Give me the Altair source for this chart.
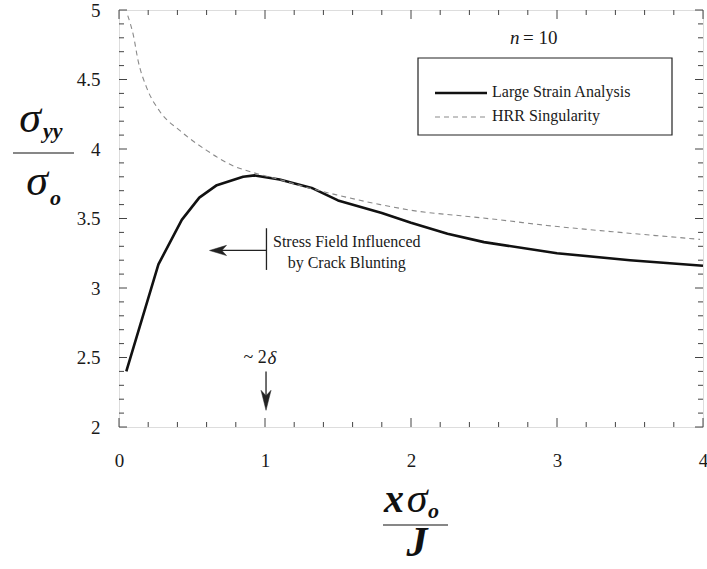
import altair as alt
import pandas as pd

# ---- data ----
ls_x = [0.05, 0.27, 0.43, 0.55, 0.67, 0.85, 0.93, 1.10, 1.32, 1.50, 1.80, 2.00, 2.25, 2.50, 3.00, 3.50, 4.00]
ls_y = [2.40, 3.17, 3.49, 3.65, 3.74, 3.80, 3.81, 3.78, 3.72, 3.63, 3.54, 3.47, 3.39, 3.33, 3.25, 3.20, 3.16]

hrr_x = [0.06, 0.10, 0.13, 0.19, 0.28, 0.42, 0.60, 0.78, 0.92, 1.10, 1.30, 1.49, 1.79, 2.06, 2.34, 2.61, 2.93, 3.38, 3.98]
hrr_y = [4.96, 4.81, 4.64, 4.44, 4.27, 4.13, 3.99, 3.88, 3.83, 3.78, 3.72, 3.67, 3.60, 3.55, 3.52, 3.49, 3.45, 3.405, 3.35]

x_major = [0, 1, 2, 3, 4]
x_minor = [0.2, 0.4, 0.6, 0.8, 1.2, 1.4, 1.6, 1.8, 2.2, 2.4, 2.6, 2.8, 3.2, 3.4, 3.6, 3.8]
y_major = [2, 2.5, 3, 3.5, 4, 4.5, 5]
y_minor = [2.1, 2.2, 2.3, 2.4, 2.6, 2.7, 2.8, 2.9, 3.1, 3.2, 3.3, 3.4, 3.6, 3.7, 3.8, 3.9,
           4.1, 4.2, 4.3, 4.4, 4.6, 4.7, 4.8, 4.9]

legend_labels = ["Large Strain Analysis", "HRR Singularity"]

# annotation anchors in data units
blunt_bar_x = [1.01]
blunt_bar_y = [3.43, 3.13]
blunt_arrow_x = [1.01, 0.62]
blunt_arrow_y = [3.27]
blunt_text = ["Stress Field Influenced", "by Crack Blunting"]
blunt_text_x = [1.56, 1.56]
blunt_text_y = [3.33, 3.18]
delta_x = [1.007]
delta_text_y = [2.50]
delta_arrow_y = [2.40, 2.12]

W, H = 584, 417
FONT = "'Liberation Serif', 'Times New Roman', 'DejaVu Serif', serif"
INK = "#1a1a1a"

xs = alt.Scale(domain=[0, 4], nice=False, zero=False)
ys = alt.Scale(domain=[2, 5], nice=False, zero=False)

one = pd.DataFrame({"a": [0]})

solid = alt.Chart(pd.DataFrame({"x": ls_x, "y": ls_y})).mark_line(
    color="#111", strokeWidth=2.6, strokeJoin="round"
).encode(
    x=alt.X("x:Q", scale=xs, axis=alt.Axis(
        values=x_major, title=None, ticks=False, domain=False, grid=False,
        labelFont=FONT, labelFontSize=19, labelColor=INK, labelPadding=24,
        labelExpr="'' + datum.value", labelFlush=False, labelBound=False)),
    y=alt.Y("y:Q", scale=ys, axis=alt.Axis(
        values=y_major, title=None, ticks=False, domain=False, grid=False,
        labelFont=FONT, labelFontSize=19, labelColor=INK, labelPadding=19,
        labelExpr="'' + datum.value", labelFlush=False, labelBound=False)),
)

dashed = alt.Chart(pd.DataFrame({"x": hrr_x, "y": hrr_y})).mark_line(
    color="#8a8a8a", strokeWidth=1.1, strokeDash=[5, 4], interpolate="monotone"
).encode(x=alt.X("x:Q", scale=xs), y=alt.Y("y:Q", scale=ys))

# inward ticks on all four sides
def xticks(vals, length):
    df = pd.DataFrame({"v": vals})
    bot = alt.Chart(df).mark_rule(color="#444", strokeWidth=1).encode(
        x=alt.X("v:Q", scale=xs), y=alt.value(H), y2=alt.value(H - length))
    top = alt.Chart(df).mark_rule(color="#444", strokeWidth=1).encode(
        x=alt.X("v:Q", scale=xs), y=alt.value(0), y2=alt.value(length))
    return [bot, top]

def yticks(vals, length):
    df = pd.DataFrame({"v": vals})
    left = alt.Chart(df).mark_rule(color="#444", strokeWidth=1).encode(
        y=alt.Y("v:Q", scale=ys), x=alt.value(0), x2=alt.value(length))
    right = alt.Chart(df).mark_rule(color="#444", strokeWidth=1).encode(
        y=alt.Y("v:Q", scale=ys), x=alt.value(W), x2=alt.value(W - length))
    return [left, right]

ticks = xticks(x_major, 9) + xticks(x_minor, 5) + yticks(y_major, 8) + yticks(y_minor, 5)

# legend box
leg_box = alt.Chart(one).mark_rect(fill="white", stroke="#222", strokeWidth=1.2).encode(
    x=alt.value(299), x2=alt.value(553), y=alt.value(48), y2=alt.value(125))
leg_solid = alt.Chart(one).mark_rule(color="#111", strokeWidth=2.4).encode(
    x=alt.value(316), x2=alt.value(368), y=alt.value(83))
leg_dash = alt.Chart(one).mark_rule(color="#8a8a8a", strokeWidth=1.1, strokeDash=[5, 4]).encode(
    x=alt.value(316), x2=alt.value(368), y=alt.value(107))
leg_t1 = alt.Chart(one).mark_text(font=FONT, fontSize=16, color=INK, align="left", baseline="middle").encode(
    x=alt.value(373), y=alt.value(82), text=alt.value(legend_labels[0]))
leg_t2 = alt.Chart(one).mark_text(font=FONT, fontSize=16, color=INK, align="left", baseline="middle").encode(
    x=alt.value(373), y=alt.value(106), text=alt.value(legend_labels[1]))
n_t1 = alt.Chart(one).mark_text(font=FONT, fontSize=19, fontStyle="italic", color=INK, align="left", baseline="middle").encode(
    x=alt.value(391), y=alt.value(28), text=alt.value("n"))
n_t2 = alt.Chart(one).mark_text(font=FONT, fontSize=19, color=INK, align="left", baseline="middle").encode(
    x=alt.value(404), y=alt.value(28), text=alt.value("= 10"))

# crack blunting annotation
bar = alt.Chart(pd.DataFrame({"x": blunt_bar_x, "y": [blunt_bar_y[0]], "y2": [blunt_bar_y[1]]})).mark_rule(
    color="#222", strokeWidth=1.3).encode(x=alt.X("x:Q", scale=xs), y=alt.Y("y:Q", scale=ys), y2="y2:Q")
harrow = alt.Chart(pd.DataFrame({"x": [blunt_arrow_x[0]], "x2": [blunt_arrow_x[1] + 0.05], "y": blunt_arrow_y})).mark_rule(
    color="#222", strokeWidth=1.3).encode(x=alt.X("x:Q", scale=xs), x2="x2:Q", y=alt.Y("y:Q", scale=ys))
hhead = alt.Chart(pd.DataFrame({"x": [blunt_arrow_x[1]], "y": blunt_arrow_y})).mark_point(
    shape="M 0 0 L 2 -0.6 L 1.45 0 L 2 0.6 Z", filled=True, fill="#222", stroke="#222", strokeWidth=0.5, size=289, opacity=1
).encode(x=alt.X("x:Q", scale=xs), y=alt.Y("y:Q", scale=ys))
btext = alt.Chart(pd.DataFrame({"x": blunt_text_x, "y": blunt_text_y, "t": blunt_text})).mark_text(
    font=FONT, fontSize=16, color=INK, align="center", baseline="middle").encode(
    x=alt.X("x:Q", scale=xs), y=alt.Y("y:Q", scale=ys), text="t:N")

# ~2 delta annotation
dtext1 = alt.Chart(pd.DataFrame({"x": [delta_x[0] + 0.005], "y": delta_text_y})).mark_text(
    font=FONT, fontSize=18, color=INK, align="right", baseline="middle").encode(
    x=alt.X("x:Q", scale=xs), y=alt.Y("y:Q", scale=ys), text=alt.value("~ 2"))
dtext2 = alt.Chart(pd.DataFrame({"x": [delta_x[0] + 0.01], "y": delta_text_y})).mark_text(
    font=FONT, fontSize=19, fontStyle="italic", color=INK, align="left", baseline="middle").encode(
    x=alt.X("x:Q", scale=xs), y=alt.Y("y:Q", scale=ys), text=alt.value("δ"))
varrow = alt.Chart(pd.DataFrame({"x": delta_x, "y": [delta_arrow_y[0]], "y2": [delta_arrow_y[1] + 0.06]})).mark_rule(
    color="#222", strokeWidth=1.3).encode(x=alt.X("x:Q", scale=xs), y=alt.Y("y:Q", scale=ys), y2="y2:Q")
vhead = alt.Chart(pd.DataFrame({"x": delta_x, "y": [delta_arrow_y[1]]})).mark_point(
    shape="M 0 0 L -0.5 -2 L 0 -1.45 L 0.5 -2 Z", filled=True, fill="#222", stroke="#222", strokeWidth=0.5, size=400, opacity=1
).encode(x=alt.X("x:Q", scale=xs), y=alt.Y("y:Q", scale=ys))

# axis titles drawn as fractions
def txt(s, x, y, size, style="italic", weight="normal", align="center", baseline="alphabetic"):
    return alt.Chart(one).mark_text(font=FONT, fontSize=size, fontStyle=style, fontWeight=weight,
                                    color="#111", align=align, baseline=baseline).encode(
        x=alt.value(x), y=alt.value(y), text=alt.value(s))

ytitle = [
    txt("σ", -89, 122, 44),
    txt("yy", -76, 128, 22, weight="bold", align="left"),
    alt.Chart(one).mark_rule(color="#111", strokeWidth=1.2).encode(x=alt.value(-106), x2=alt.value(-45), y=alt.value(143)),
    txt("σ", -82, 185, 44),
    txt("o", -69, 195, 22, weight="bold", align="left"),
]
xtitle = [
    txt("x", 275, 502, 40, weight="bold"),
    txt("σ", 298, 502, 42),
    txt("o", 309, 508, 22, weight="bold", align="left"),
    alt.Chart(one).mark_rule(color="#111", strokeWidth=1.2).encode(x=alt.value(264), x2=alt.value(329), y=alt.value(515)),
    txt("J", 298, 546, 42, weight="bold"),
]

chart = alt.layer(
    solid, dashed, *ticks, leg_box, leg_solid, leg_dash, leg_t1, leg_t2, n_t1, n_t2,
    bar, harrow, hhead, btext, dtext1, dtext2, varrow, vhead, *ytitle, *xtitle
).properties(
    width=W, height=H,
    autosize=alt.AutoSizeParams(type="none"),
    padding={"left": 119, "top": 10, "right": 4, "bottom": 142},
).configure_view(
    stroke="#333", strokeWidth=1
).configure(background="white")

chart.save("out.html", embed_options={"renderer": "svg", "actions": False})
